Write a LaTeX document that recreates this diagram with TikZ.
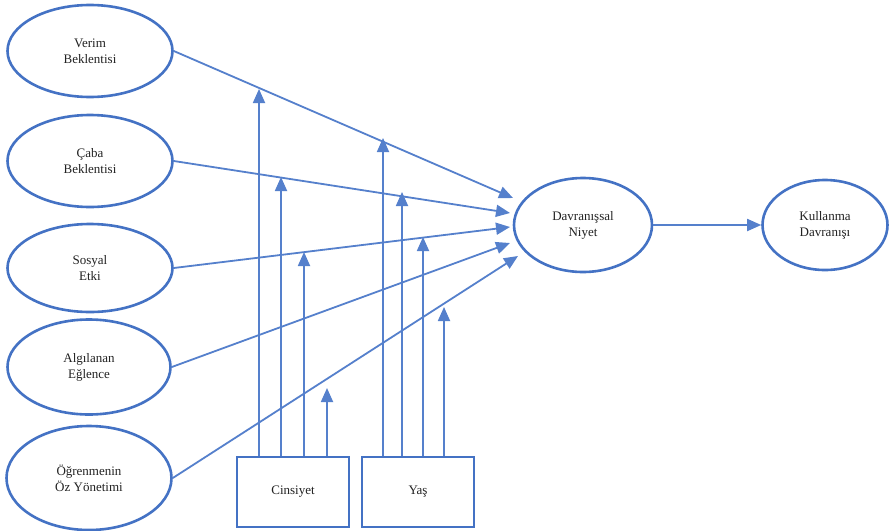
\documentclass[tikz,border=0pt]{standalone}
\usepackage{fontspec}
\setmainfont{Liberation Serif}
\usetikzlibrary{shapes.geometric,arrows.meta}
\definecolor{lblue}{HTML}{4472C4}
\definecolor{cblue}{HTML}{5580CC}
\definecolor{txt}{HTML}{222222}
\begin{document}
\begin{tikzpicture}[x=1pt,y=-1pt,
  oval/.style={ellipse,draw=lblue,line width=2.6pt,inner sep=0pt,
    minimum width=165pt,minimum height=92pt,align=center,text=txt,
    font=\fontsize{13}{16}\selectfont},
  facbox/.style={rectangle,draw=lblue,line width=2.6pt,minimum width=112pt,
    minimum height=70pt,text=txt,font=\fontsize{13}{16}\selectfont},
  arr/.style={draw=cblue,line width=1.8pt,-{Triangle[length=14pt,width=12pt]}},
  ]
\useasboundingbox (0,0) rectangle (890,530);
\fill[white] (0,0) rectangle (890,530);
% left constructs
\node[oval] (v) at (90,51) {Verim\\Beklentisi};
\node[oval] (c) at (90,161) {Çaba\\Beklentisi};
\node[oval,minimum height=88pt] (s) at (90,268) {Sosyal\\Etki};
\node[oval,minimum width=163pt,minimum height=95pt] (a) at (89,367) {Algılanan\\Eğlence};
\node[oval,minimum height=104pt] (o) at (89,478) {Öğrenmenin\\Öz Yönetimi};
% outcome constructs
\node[oval,minimum width=138pt,minimum height=94pt] (d) at (583,225) {Davranışsal\\Niyet};
\node[oval,minimum width=125pt,minimum height=90pt] (k) at (825,225) {Kullanma\\Davranışı};
% moderators
\node[facbox] (cin) at (293,492) {Cinsiyet};
\node[facbox] (yas) at (418,492) {Yaş};
% arrow tips at Davranissal Niyet
\coordinate (t1) at (513,198);
\coordinate (t2) at (510,213);
\coordinate (t3) at (510,227);
\coordinate (t4) at (510,243);
\coordinate (t5) at (518,256);
\draw[arr] (v.east) -- (t1);
\draw[arr] (c.east) -- (t2);
\draw[arr] (s.east) -- (t3);
\draw[arr] (a.east) -- (t4);
\draw[arr] (o.east) -- (t5);
\draw[arr] (d.east) -- (k.west);
% moderator arrows
\coordinate (m1) at (259,89);
\coordinate (m2) at (281,177);
\coordinate (m3) at (304,252);
\coordinate (m4) at (327,388);
\coordinate (n1) at (383,138);
\coordinate (n2) at (402,192);
\coordinate (n3) at (423,237);
\coordinate (n4) at (444,307);
\foreach \m in {m1,m2,m3,m4} \draw[arr] (cin.north -| \m) -- (\m);
\foreach \n in {n1,n2,n3,n4} \draw[arr] (yas.north -| \n) -- (\n);
\end{tikzpicture}
\end{document}
